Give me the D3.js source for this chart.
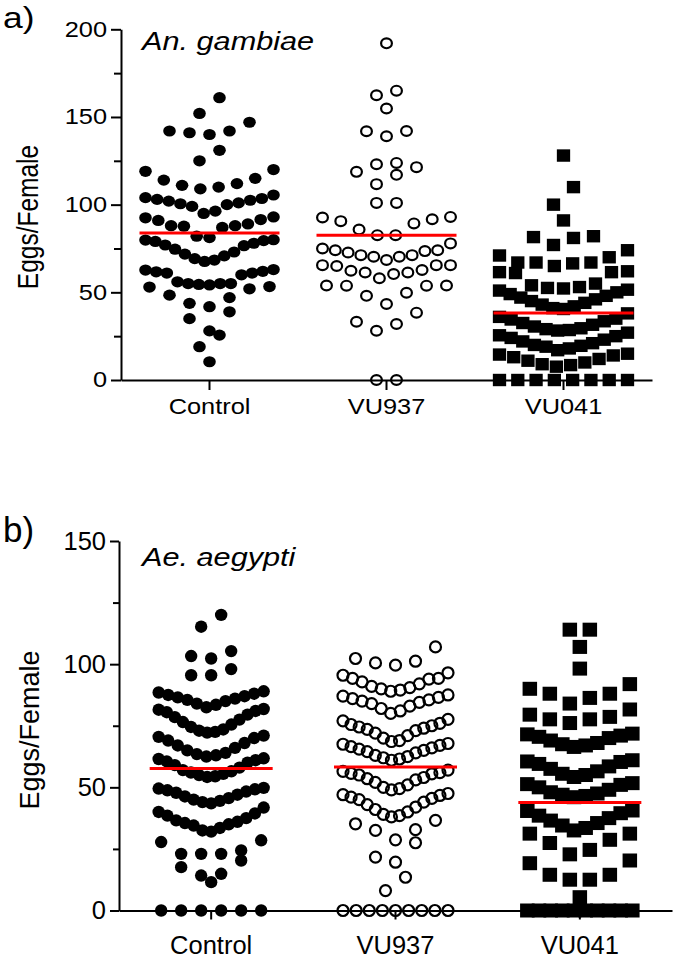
<!DOCTYPE html>
<html><head><meta charset="utf-8">
<script src="https://cdn.jsdelivr.net/npm/d3@7"></script>
<style>
body{margin:0;background:#fff}
svg{display:block}
text{font-family:"Liberation Sans",Arial,sans-serif;fill:#000}
</style>
</head><body><svg id="c" width="675" height="959"></svg>
<script>
// ---------------- data ----------------
const groups = ["Control", "VU937", "VU041"];

// panel a) An. gambiae
const controlA = [161, 152, 147, 142, 142, 141, 140, 131, 125,
  120, 119, 115, 114, 112, 111, 110, 109,
  105.5, 104, 103.5, 103, 102.5, 102, 101, 100.5, 100, 99, 96.3, 95,
  93, 92.5, 91.5, 91, 89, 88, 88, 87.7, 87, 82, 81.2,
  80, 79.8, 79.5, 79, 78, 77, 76.6, 74.6, 73, 71.8, 70.8, 69.2, 68.4, 67.6,
  63, 62.7, 62, 61.7, 61, 61, 60, 56, 55, 55, 55, 54.5, 54.2,
  53.3, 53, 52, 48.4, 47, 43.7, 41.8,
  38.9, 35, 28, 25.6, 19, 10.4];
const vu937A = [192, 165, 162.4, 154.8, 142, 141.9, 139, 123.8, 123, 121.4, 118.7, 117, 111.7, 101, 101,
  93, 92.7, 91.7, 90.6, 89.3, 85.8, 82.6, 82.6,
  77.9, 75, 74, 74, 73.5, 72.7, 71.2, 71.2, 70.3, 70.3, 68.4,
  65.5, 65.5, 65.5, 65, 62.7, 62.3, 61.3, 61.3, 60.4, 58,
  53.9, 53.9, 53.8, 53.8, 49.8, 48, 43.3,
  38.4, 33.2, 31.9, 28.1, 0, 0];
const vu041A = [128, 110, 100, 91,
  82, 81.5, 81, 77,
  74, 71, 70, 67, 67, 67, 66.5, 65,
  62, 61.5, 61.5, 61, 55, 54, 53, 52.5, 52.2,
  51.5, 51, 50, 49, 48, 47, 46, 45, 44, 43, 42, 41, 40.5,
  38, 36, 35, 34.5, 33.5, 32.5, 31.5, 30.5, 29.5, 29, 28.5, 28.2,
  27, 25.5, 25, 24, 23, 22, 21, 20, 19.5, 19, 18, 17,
  15, 14.5, 14, 13, 12, 11, 10, 9, 8.5, 7.6,
  0, 0, 0, 0, 0, 0, 0, 0];
const meansA = [83.8, 82.6, 38.2];
const majorTicksA = [0, 50, 100, 150, 200];
const minorTicksA = [25, 75, 125, 175];

// panel b) Ae. aegypti
const controlB = [120, 115.2, 105.3, 103.3, 102.3, 98, 95.5, 95.5,
  89, 88.5, 88, 87.5, 87, 86.5, 86, 85.5, 85, 84, 83.5, 82.5,
  81.8, 81.5, 81, 80.5, 79.5, 78.5, 77.5, 76.5, 75.5, 74.5, 73.5, 73, 72.5, 72.2,
  71, 70.5, 70, 69, 68, 67, 66, 65, 64, 63.5, 63, 62.5,
  61.8, 61.5, 61, 60.5, 60, 59, 58, 57, 56.5, 56, 55.5, 55, 54.5, 54.2,
  49.8, 49.5, 49.2, 48.8, 48.3, 47.8, 47, 46.3, 45.6, 45, 44.5, 44, 43.5,
  41.8, 40, 39.4, 38.5, 37.5, 36.6, 36, 35.5, 35, 34.5, 33.5, 32.5, 32,
  28.5, 27.8, 24.4, 23, 23, 23, 20.3, 17.6, 14.9, 14.2, 11.5,
  0, 0, 0, 0, 0, 0];
const vu937B = [107, 102.3, 101.2, 100.5, 99.6,
  96.5, 95.5, 94.2, 94.2, 93.9, 92.8, 92, 91, 90.5, 90, 89.5, 89,
  87.5, 87, 86.5, 86, 85.5, 85, 84.5, 84, 83, 82, 81, 80,
  77.6, 77, 76, 75.5, 75, 74.5, 74, 73.5, 73, 72, 71, 70, 69, 68.6,
  67.8, 67.5, 67, 66.5, 66, 65.5, 65, 64.5, 64, 63, 62.5, 62, 61.5, 61,
  57, 56.5, 56, 55.7, 55.5, 55, 54, 53.5, 53, 52, 51, 50, 49.5, 49,
  47.5, 47, 46.7, 46, 45.5, 45, 44, 43, 42, 41, 40, 39, 38.5, 38,
  36.6, 35.2, 32.8, 32.5, 28.7, 27.5, 21.7, 19.6, 13.5, 8.1,
  0, 0, 0, 0, 0, 0, 0, 0, 0];
const vu041B = [114, 114, 107, 98.2,
  91.9, 90, 88, 88, 86.3, 84,
  81.6, 79.5, 78.6, 77.6, 77.6, 76.1,
  71.8, 71.5, 71, 70.5, 70, 69, 68, 67.5, 67, 66.4,
  61, 60.5, 60.3, 59.5, 58.5, 57.5, 56.5, 55.5, 55, 54.2,
  51.7, 51.3, 51, 50, 49, 48, 47.5, 47, 46.5, 46,
  40.6, 40.4, 39.5, 38.5, 37.5, 36.5, 35.5, 34.5, 33.5, 32.5,
  31.2, 31.2, 28.7, 27.4, 24.6, 22.8,
  20.3, 19.2, 14.5, 14.5, 12.5, 12.5, 5.4,
  0, 0, 0, 0, 0, 0, 0, 0, 0, 0];
const meansB = [57.6, 58.3, 43.8];
const majorTicksB = [0, 50, 100, 150];
const minorTicksB = [25, 75, 125];

// ---------------- layout helpers ----------------
// GraphPad-like column scatter: values binned into rows, lowest value in the centre, alternating outwards
function scatterLayout(values, binW, binOff, spread, maxStep) {
  const bins = d3.group(values, v => Math.floor((v - binOff) / binW));
  const out = [];
  for (const arr of bins.values()) {
    const vs = arr.slice().sort((a, b) => a - b);
    const n = vs.length;
    const step = n > 1 ? Math.min(maxStep, spread / (n - 1)) : 0;
    const slots = d3.range(n).map(j => j - (n - 1) / 2)
      .sort((a, b) => Math.abs(a) - Math.abs(b) || a - b);
    vs.forEach((v, j) => out.push({ v, dx: slots[j] * step }));
  }
  return out;
}

const svg = d3.select("#c");

function drawPanel(cfg) {
  const g = svg.append("g");
  const x = d3.scaleBand().domain(groups).range([cfg.x0, cfg.x1]);
  const y = d3.scaleLinear().domain([0, cfg.max]).range([cfg.yBottom, cfg.yTop]);
  const sx = cfg.sx;

  // points
  cfg.series.forEach((vals, i) => {
    const lay = scatterLayout(vals, cfg.bins[i][0], cfg.bins[i][1], cfg.spread, cfg.maxStep);
    const cx = x(groups[i]) + x.bandwidth() / 2;
    const m = cfg.markers[i];
    const sel = g.append("g").selectAll("*").data(lay);
    if (m.type === "dot") {
      sel.join("ellipse").attr("cx", d => cx + d.dx).attr("cy", d => y(d.v))
        .attr("rx", m.rx).attr("ry", m.ry).attr("fill", "#000");
    } else if (m.type === "ring") {
      sel.join("ellipse").attr("cx", d => cx + d.dx).attr("cy", d => y(d.v))
        .attr("rx", m.rx).attr("ry", m.ry).attr("fill", "none")
        .attr("stroke", "#000").attr("stroke-width", m.sw);
    } else {
      sel.join("rect").attr("x", d => cx + d.dx - m.w / 2).attr("y", d => y(d.v) - m.h / 2)
        .attr("width", m.w).attr("height", m.h).attr("fill", "#000");
    }
  });

  // mean lines
  g.append("g").selectAll("line").data(cfg.means).join("line")
    .attr("x1", (d, i) => x(groups[i]) + x.bandwidth() / 2 - cfg.meanHalf)
    .attr("x2", (d, i) => x(groups[i]) + x.bandwidth() / 2 + cfg.meanHalf)
    .attr("y1", d => y(d)).attr("y2", d => y(d))
    .attr("stroke", "#ff0000").attr("stroke-width", 3);

  // y axis (major)
  const ya = g.append("g").attr("transform", `translate(${cfg.x0},0)`)
    .call(d3.axisLeft(y).tickValues(cfg.major).tickSizeInner(cfg.tickLen).tickSizeOuter(0)
      .tickPadding(cfg.labelGap).tickFormat(d3.format("d")));
  ya.selectAll("path,line").attr("stroke", "#000").attr("stroke-width", 2);
  ya.selectAll("text").attr("font-size", cfg.fs).attr("font-family", "Liberation Sans, Arial, sans-serif")
    .attr("fill", "#000")
    .attr("x", -(cfg.tickLen + cfg.labelGap) / sx).attr("transform", `scale(${sx},1)`);
  // y axis (minor)
  const ym = g.append("g").attr("transform", `translate(${cfg.x0},0)`)
    .call(d3.axisLeft(y).tickValues(cfg.minor).tickSizeInner(cfg.minorLen).tickSizeOuter(0).tickFormat(""));
  ym.select(".domain").remove();
  ym.selectAll("line").attr("stroke", "#000").attr("stroke-width", 2);

  // x axis
  const xa = g.append("g").attr("transform", `translate(0,${cfg.yBottom})`)
    .call(d3.axisBottom(x).tickSizeInner(cfg.xTickLen).tickSizeOuter(0).tickPadding(cfg.xLabelGap));
  xa.selectAll("path,line").attr("stroke", "#000").attr("stroke-width", 2);
  xa.selectAll("text").attr("font-size", cfg.fs).attr("font-family", "Liberation Sans, Arial, sans-serif")
    .attr("fill", "#000").attr("transform", `scale(${sx},1)`)
    .attr("x", 0);

  // y title
  svg.append("text").attr("transform", `translate(${cfg.yTitleX},${cfg.yTitleY}) scale(${sx},1) rotate(-90)`)
    .attr("text-anchor", "middle").attr("font-size", cfg.yTitleFs).text("Eggs/Female");
  // species title
  svg.append("text").attr("transform", `translate(${cfg.titleX},${cfg.titleY}) scale(${cfg.titleSx},1)`)
    .attr("font-size", cfg.titleFs).attr("font-style", "italic").text(cfg.title);
  // panel letter
  svg.append("text").attr("transform", `translate(${cfg.letterX},${cfg.letterY}) scale(${sx},1)`)
    .attr("font-size", cfg.letterFs).text(cfg.letter);
}

drawPanel({
  series: [controlA, vu937A, vu041A], means: meansA, major: majorTicksA, minor: minorTicksA,
  bins: [[13.5, 0], [13.5, 0], [12, 4]],
  markers: [{ type: "dot", rx: 6.3, ry: 5.6 }, { type: "ring", rx: 5.4, ry: 4.9, sw: 2.2 }, { type: "sq", w: 13.3, h: 12.4 }],
  x0: 121, x1: 652, yBottom: 380, yTop: 29.3, max: 200,
  spread: 128, maxStep: 20, meanHalf: 70,
  sx: 1.18, fs: 21.5, tickLen: 10, minorLen: 7, labelGap: 4, xTickLen: 10, xLabelGap: 9,
  yTitleX: 38, yTitleY: 217, yTitleFs: 24.5,
  title: "An. gambiae", titleX: 142, titleY: 50, titleFs: 26, titleSx: 1.18,
  letter: "a)", letterX: 3, letterY: 28, letterFs: 30
});

drawPanel({
  series: [controlB, vu937B, vu041B], means: meansB, major: majorTicksB, minor: minorTicksB,
  bins: [[10, 2], [10, 8], [10, 2]],
  markers: [{ type: "dot", rx: 6.2, ry: 6.2 }, { type: "ring", rx: 5.5, ry: 5.5, sw: 2.2 }, { type: "sq", w: 14.5, h: 14 }],
  x0: 119, x1: 672, yBottom: 910.5, yTop: 541, max: 150,
  spread: 105, maxStep: 20, meanHalf: 61.5,
  sx: 1, fs: 25.5, tickLen: 9, minorLen: 6, labelGap: 4, xTickLen: 9, xLabelGap: 16,
  yTitleX: 39, yTitleY: 730, yTitleFs: 27,
  title: "Ae. aegypti", titleX: 142, titleY: 566, titleFs: 26, titleSx: 1.18,
  letter: "b)", letterX: 3, letterY: 542, letterFs: 35
});
</script>
</body></html>
